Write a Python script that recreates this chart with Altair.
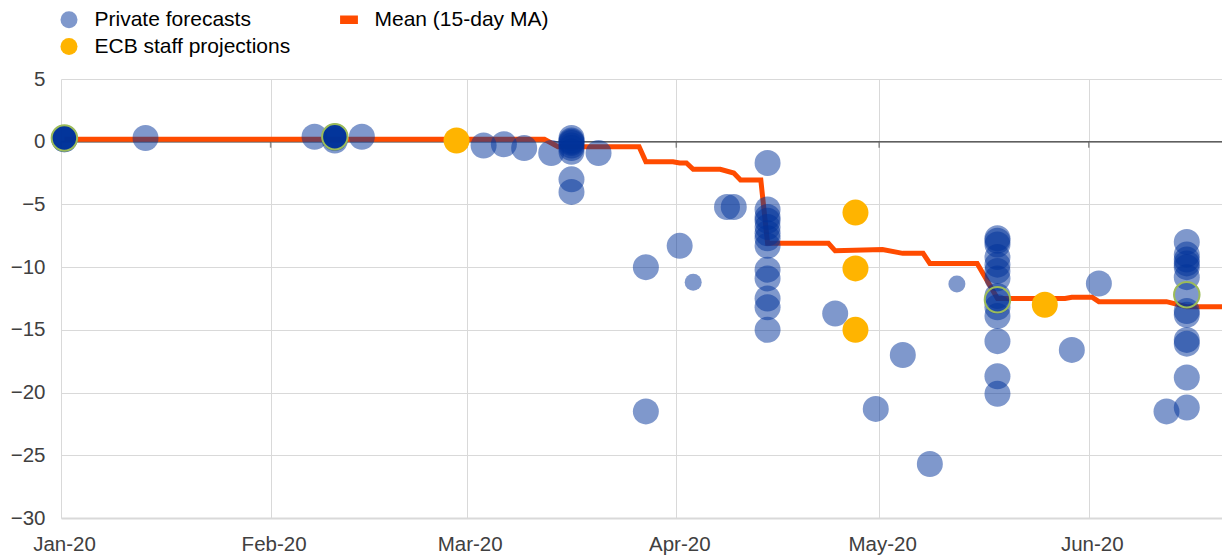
import altair as alt
import pandas as pd

# ---------------- data ----------------
private_dates = (
    ["2020-01-01"] * 6
    + ["2020-01-13", "2020-02-07"]
    + ["2020-02-10"] * 6
    + ["2020-02-14", "2020-03-03", "2020-03-06", "2020-03-09", "2020-03-13"]
    + ["2020-03-16"] * 9
    + ["2020-03-20", "2020-03-27", "2020-03-27", "2020-04-01", "2020-04-03", "2020-04-08", "2020-04-09"]
    + ["2020-04-14"] * 13
    + ["2020-04-24", "2020-04-30", "2020-05-04", "2020-05-08", "2020-05-12"]
    + ["2020-05-18"] * 14
    + ["2020-05-29", "2020-06-02", "2020-06-12"]
    + ["2020-06-15"] * 13
)
private_values = (
    [0.3, 0.3, 0.2, 0.3, 0.2, 0.3]
    + [0.3, 0.4]
    + [0.4, 0.4, 0.3, 0.4, 0.4, 0.1]
    + [0.4, -0.3, -0.2, -0.5, -0.9]
    + [0.3, 0.1, 0.0, -0.1, -0.3, -0.5, -0.8, -3.0, -4.0]
    + [-0.9, -10.0, -21.5, -8.3, -11.2, -5.2, -5.2]
    + [-1.7, -5.4, -6.0, -6.3, -6.8, -7.3, -7.7, -8.3, -10.2, -10.9, -12.5, -13.2, -15.0]
    + [-13.7, -21.3, -17.0, -25.7, -11.35]
    + [-7.7, -7.9, -8.2, -9.2, -9.8, -10.3, -10.9, -12.3, -12.7, -13.2, -13.9, -15.9, -18.7, -20.1]
    + [-16.6, -11.3, -21.5]
    + [-8.0, -9.0, -9.4, -9.7, -10.0, -10.8, -12.2, -13.5, -13.8, -15.8, -16.1, -18.8, -21.2]
)
small_marker_dates = ["2020-04-03", "2020-05-12"]

ecb_dates = ["2020-02-28", "2020-04-27", "2020-04-27", "2020-04-27", "2020-05-25"]
ecb_values = [0.1, -5.65, -10.1, -15.0, -13.0]

ring_dates = ["2020-01-01", "2020-02-10", "2020-05-18", "2020-06-15"]
ring_values = [0.3, 0.4, -12.6, -12.2]

mean_dates = [
    "2020-01-01", "2020-03-12", "2020-03-14", "2020-03-26", "2020-03-27", "2020-03-31",
    "2020-04-01", "2020-04-02", "2020-04-03", "2020-04-07", "2020-04-09", "2020-04-10",
    "2020-04-13", "2020-04-14", "2020-04-23", "2020-04-24", "2020-05-01", "2020-05-04",
    "2020-05-07", "2020-05-08", "2020-05-15", "2020-05-18", "2020-05-28", "2020-05-29",
    "2020-06-01", "2020-06-02", "2020-06-12", "2020-06-15", "2020-06-22",
]
mean_values = [
    0.2, 0.2, -0.4, -0.4, -1.6, -1.6,
    -1.7, -1.7, -2.2, -2.2, -2.5, -3.05,
    -3.05, -8.1, -8.1, -8.7, -8.6, -8.9,
    -8.9, -9.7, -9.7, -12.5, -12.5, -12.4,
    -12.4, -12.75, -12.75, -13.15, -13.15,
]

month_ticks = ["2020-01-01", "2020-02-01", "2020-03-01", "2020-04-01", "2020-05-01", "2020-06-01"]
y_ticks = [-30, -25, -20, -15, -10, -5, 0, 5]

# legend order (filled column by column: 2 rows x 2 columns)
SERIES = ["Private forecasts", "ECB staff projections", "Mean (15-day MA)"]
COLORS = ["rgba(0,50,153,0.5)", "#ffb400", "#ff4b00"]
RECT = "M-1.05,-0.5L1.05,-0.5L1.05,0.5L-1.05,0.5Z"
SHAPES = ["circle", "circle", RECT]

FONT = "Liberation Sans"
GRID = "#d9d9d9"
LABEL = "#404040"

# ---------------- tables ----------------
points = pd.DataFrame({
    "date": private_dates + ecb_dates,
    "value": private_values + ecb_values,
    "series": ["Private forecasts"] * len(private_dates) + ["ECB staff projections"] * len(ecb_dates),
    "marker": ["small" if d in small_marker_dates else "normal" for d in private_dates] + ["normal"] * len(ecb_dates),
})
rings = pd.DataFrame({"date": ring_dates, "value": ring_values})
mean = pd.DataFrame({"date": mean_dates, "value": mean_values})
months = pd.DataFrame({"date": month_ticks, "value": [0] * len(month_ticks)})
zero = pd.DataFrame({"value": [0]})

HALF_DAY = "time(toDate(datum.date)) + 43200000"
AT_DAY = "time(toDate(datum.date))"

x_scale = alt.Scale(
    type="utc",
    domain=[alt.DateTime(year=2020, month=1, date=1, utc=True),
            alt.DateTime(year=2020, month=6, date=20, hours=17, utc=True)],
)
x_axis = alt.Axis(
    values=[alt.DateTime(year=2020, month=m, date=1, utc=True) for m in range(1, 7)],
    format="%b-%y", title=None, labelFont=FONT, labelFontSize=20.5, labelColor=LABEL,
    grid=True, gridColor=GRID, gridWidth=1, domain=True, domainColor=GRID, domainWidth=2,
    ticks=False, tickSize=0, labelPadding=16, labelFlush=False, labelOverlap=False, labelOffset=3,
)
y_scale = alt.Scale(domain=[-30, 5], nice=False, zero=False)
y_axis = alt.Axis(
    values=y_ticks, title=None, labelFont=FONT, labelFontSize=20.5, labelColor=LABEL,
    grid=True, gridColor=GRID, gridWidth=1, domain=False, ticks=False, tickSize=0,
    labelPadding=16,
)


def X():
    return alt.X("t:T", scale=x_scale, axis=x_axis)


def Y():
    return alt.Y("value:Q", scale=y_scale, axis=y_axis)


zero_line = alt.Chart(zero).mark_rule(color="#5f5f5f", strokeWidth=1.5).encode(y=Y())

month_marks = (
    alt.Chart(months)
    .transform_calculate(t=AT_DAY)
    .mark_tick(orient="vertical", color="#5f5f5f", size=6, thickness=1.5, yOffset=3)
    .encode(x=X(), y=Y())
)

mean_line = (
    alt.Chart(mean)
    .transform_calculate(t=HALF_DAY)
    .mark_line(color="#ff4b00", strokeWidth=5, clip=True, strokeJoin="miter")
    .encode(x=X(), y=Y())
)

dots = (
    alt.Chart(points)
    .transform_calculate(t=HALF_DAY)
    .mark_point(filled=True, strokeWidth=0, opacity=1)
    .encode(
        x=X(),
        y=Y(),
        color=alt.Color(
            "series:N",
            scale=alt.Scale(domain=SERIES, range=COLORS),
            legend=alt.Legend(
                title=None, orient="none", legendX=-2.5, legendY=-70, columns=2,
                columnPadding=48, rowPadding=5, labelFont=FONT, labelFontSize=21,
                labelColor="#000000", labelOffset=15, symbolSize=289, padding=0,
                symbolStrokeWidth=0, labelLimit=400,
            ),
        ),
        shape=alt.Shape("series:N", scale=alt.Scale(domain=SERIES, range=SHAPES)),
        size=alt.Size("marker:N", scale=alt.Scale(domain=["normal", "small"], range=[676, 289]), legend=None),
    )
)

ring_marks = (
    alt.Chart(rings)
    .transform_calculate(t=HALF_DAY)
    .mark_point(filled=False, color="#9bbb59", strokeWidth=2, size=650, opacity=1)
    .encode(x=X(), y=Y())
)

chart = (
    alt.layer(zero_line, month_marks, mean_line, dots, ring_marks)
    .properties(
        width=1161, height=439,
        padding={"left": 53, "top": 71, "right": 0, "bottom": 40},
        autosize=alt.AutoSizeParams(type="none"),
    )
    .configure(font=FONT)
    .configure_view(stroke=None)
)

chart.save("out.html", embed_options={"renderer": "svg", "actions": False})
